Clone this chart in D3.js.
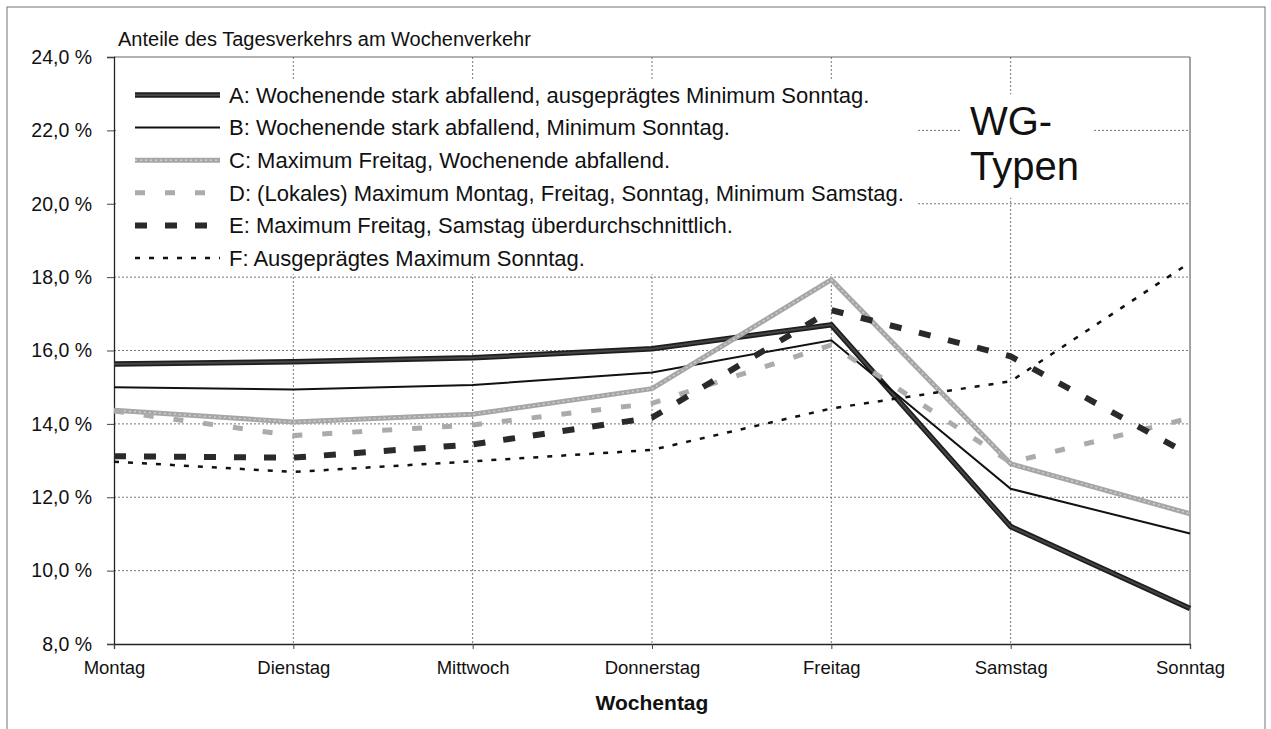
<!DOCTYPE html>
<html>
<head>
<meta charset="utf-8">
<script src="https://cdn.jsdelivr.net/npm/d3@7"></script>
<style>
  html, body { margin: 0; padding: 0; background: #fff; }
  svg { display: block; font-family: "Liberation Sans", Arial, sans-serif; }
</style>
</head>
<body>
<svg id="chart" width="1271" height="729"></svg>
<script>
// ---- data ----
const categories = ["Montag", "Dienstag", "Mittwoch", "Donnerstag", "Freitag", "Samstag", "Sonntag"];
const yTicks = [8, 10, 12, 14, 16, 18, 20, 22, 24];
const seriesNames = ["A", "B", "C", "D", "E", "F"];
const legendLabels = [
  "A: Wochenende stark abfallend, ausgeprägtes Minimum Sonntag.",
  "B: Wochenende stark abfallend, Minimum Sonntag.",
  "C: Maximum Freitag, Wochenende abfallend.",
  "D: (Lokales) Maximum Montag, Freitag, Sonntag, Minimum Samstag.",
  "E: Maximum Freitag, Samstag überdurchschnittlich.",
  "F: Ausgeprägtes Maximum Sonntag."
];
const valuesA = [15.63, 15.69, 15.80, 16.05, 16.70, 11.20, 8.97];
const valuesB = [15.00, 14.94, 15.06, 15.40, 16.28, 12.23, 11.01];
const valuesC = [14.37, 14.05, 14.26, 14.96, 17.93, 12.91, 11.55];
const valuesD = [14.35, 13.68, 13.97, 14.56, 16.15, 12.95, 14.16];
const valuesE = [13.12, 13.08, 13.44, 14.17, 17.10, 15.84, 13.15];
const valuesF = [12.97, 12.69, 12.98, 13.29, 14.42, 15.16, 18.40];
const chartTitle = "Anteile des Tagesverkehrs am Wochenverkehr";
const xTitle = "Wochentag";
const boxText = ["WG-", "Typen"];

const seriesValues = [valuesA, valuesB, valuesC, valuesD, valuesE, valuesF];

// ---- styles ----
const styles = [
  { layers: [{ c: "#1e1e1e", w: 5.5 }, { c: "#454545", w: 2 }] },
  { layers: [{ c: "#111", w: 2 }] },
  { layers: [{ c: "#a6a6a6", w: 5 }, { c: "#cfcfcf", w: 1.5, dash: "2,3" }] },
  { layers: [{ c: "#ababab", w: 5, dash: "10,20" }] },
  { layers: [{ c: "#2a2a2a", w: 6, dash: "12,18" }] },
  { layers: [{ c: "#111", w: 2.5, dash: "5,9" }] }
];

const svg = d3.select("#chart");
const pL = 114, pR = 1190, pT = 57, pB = 644;

const x = d3.scalePoint().domain(categories).range([pL, pR]);
const y = d3.scaleLinear().domain([8, 24]).range([pB, pT]);

// outer frame
svg.append("rect").attr("x", 7).attr("y", 7).attr("width", 1258).attr("height", 740)
  .attr("fill", "none").attr("stroke", "#8a8a8a").attr("stroke-width", 1.2);

// gridlines
const grid = svg.append("g");
grid.selectAll("line.h").data(yTicks.filter(d => d > 8 && d < 24)).join("line")
  .attr("x1", pL).attr("x2", pR)
  .attr("y1", d => y(d)).attr("y2", d => y(d))
  .attr("stroke", "#777").attr("stroke-width", 1).attr("stroke-dasharray", "2,2");
grid.selectAll("line.v").data(categories.slice(1, -1)).join("line")
  .attr("x1", d => x(d)).attr("x2", d => x(d))
  .attr("y1", pT).attr("y2", pB)
  .attr("stroke", "#777").attr("stroke-width", 1).attr("stroke-dasharray", "2,2");

// plot frame top/right
svg.append("line").attr("x1", pL).attr("x2", pR).attr("y1", pT).attr("y2", pT)
  .attr("stroke", "#666").attr("stroke-width", 1.2);
svg.append("line").attr("x1", pR).attr("x2", pR).attr("y1", pT).attr("y2", pB)
  .attr("stroke", "#666").attr("stroke-width", 1.2);

// legend box (white, hides grid)
const legX0 = 118, legX1 = 916;
const legTop = pT + 24, legBottom = y(18) - 3;
svg.append("rect").attr("x", legX0).attr("y", legTop).attr("width", legX1 - legX0)
  .attr("height", legBottom - legTop).attr("fill", "#fff");

// WG box
const wgTop = y(22) - 36, wgBottom = y(20) - 6;
svg.append("rect").attr("x", 960).attr("y", wgTop).attr("width", 132)
  .attr("height", wgBottom - wgTop).attr("fill", "#fff");
svg.append("text").attr("x", 970).attr("y", y(22) + 5).attr("font-size", 40).attr("fill", "#111").text(boxText[0]);
svg.append("text").attr("x", 970).attr("y", y(20) - 24).attr("font-size", 40).attr("fill", "#111").text(boxText[1]);

// axes
const yAxis = d3.axisLeft(y).tickValues(yTicks).tickSize(7).tickPadding(15)
  .tickFormat(d => d.toFixed(1).replace(".", ",") + " %");
const gy = svg.append("g").attr("transform", `translate(${pL},0)`).call(yAxis);
gy.select(".domain").attr("stroke", "#222").attr("stroke-width", 1.3);
gy.selectAll(".tick line").attr("stroke", "#444");
gy.selectAll("text").attr("font-size", 19.5).attr("fill", "#111")
  .attr("font-family", "Liberation Sans, Arial, sans-serif");

const xAxis = d3.axisBottom(x).tickSize(5).tickPadding(12);
const gx = svg.append("g").attr("transform", `translate(0,${pB})`).call(xAxis);
gx.select(".domain").attr("stroke", "#222").attr("stroke-width", 1.3);
gx.selectAll(".tick line").attr("stroke", "#444");
gx.selectAll("text").attr("font-size", 18.5).attr("fill", "#111")
  .attr("font-family", "Liberation Sans, Arial, sans-serif");

// titles
svg.append("text").attr("x", 118).attr("y", 46).attr("font-size", 20).attr("fill", "#111").text(chartTitle);
svg.append("text").attr("x", 652).attr("y", 710).attr("text-anchor", "middle")
  .attr("font-size", 21).attr("font-weight", "bold").attr("fill", "#111").text(xTitle);

// series lines
const line = d3.line().x((d, i) => x(categories[i])).y(d => y(d));
const gLines = svg.append("g").attr("fill", "none");
seriesValues.forEach((vals, si) => {
  styles[si].layers.forEach(l => {
    gLines.append("path").datum(vals).attr("d", line)
      .attr("stroke", l.c).attr("stroke-width", l.w)
      .attr("stroke-dasharray", l.dash || null)
      .attr("stroke-linejoin", "miter").attr("stroke-linecap", "butt");
  });
});

// legend entries
const legRow0 = pT + 38, legStep = 32.6;
const gLeg = svg.append("g");
seriesNames.forEach((n, i) => {
  const ry = legRow0 + i * legStep;
  styles[i].layers.forEach(l => {
    gLeg.append("line").attr("x1", 135).attr("x2", 220).attr("y1", ry).attr("y2", ry)
      .attr("stroke", l.c).attr("stroke-width", l.w).attr("stroke-dasharray", l.dash || null);
  });
  gLeg.append("text").attr("x", 229).attr("y", ry + 7.7).attr("font-size", 22)
    .attr("fill", "#111").text(legendLabels[i]);
});
</script>
</body>
</html>
